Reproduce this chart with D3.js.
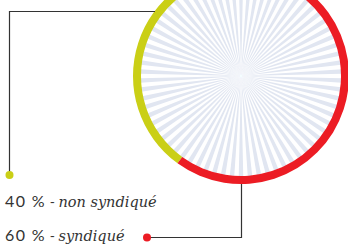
<!DOCTYPE html>
<html>
<head>
<meta charset="utf-8">
<script src="https://cdn.jsdelivr.net/npm/d3@7"></script>
<style>
	html, body { margin: 0; padding: 0; background: #fff; overflow: hidden; }
</style>
</head>
<body>
<svg id="chart" width="348" height="244"></svg>
<script>
// data
const categories = ["non syndiqué", "syndiqué"];
const values = [40, 60];
const colors = ["#cacf16", "#ec1c24"];

const width = 348, height = 244;
const center = { x: 241, y: 76 };
const outerR = 108, innerR = 100;
const rayCount = 140;

const svg = d3.select("#chart");

// rays background
const rayArc = d3.arc().innerRadius(0).outerRadius(innerR + 1);
const rayAngle = 2 * Math.PI / rayCount;
const g = svg.append("g").attr("transform", `translate(${center.x},${center.y})`);
g.selectAll("path.ray")
	.data(d3.range(rayCount).filter(i => i % 2 === 0))
	.enter().append("path")
	.attr("class", "ray")
	.attr("fill", "#e1e6f1")
	.attr("d", i => rayArc({ startAngle: (i - 0.5) * rayAngle, endAngle: (i + 0.5) * rayAngle }));

// ring
const total = d3.sum(values);
const pie = d3.pie().sort(null)
	.startAngle(-2 * Math.PI * values[0] / total)
	.endAngle(2 * Math.PI - 2 * Math.PI * values[0] / total);
const ringArc = d3.arc().innerRadius(innerR).outerRadius(outerR);
g.selectAll("path.slice")
	.data(pie(values))
	.enter().append("path")
	.attr("class", "slice")
	.attr("fill", (d, i) => colors[i])
	.attr("d", ringArc);

// leader lines (layout only)
const leaders = [
	{ pts: [[9.5, 175], [9.5, 11.5], [155, 11.5]], dot: [9.5, 175] },
	{ pts: [[147, 237.5], [241.5, 237.5], [241.5, 184]], dot: [147, 237.5] }
];
const line = d3.line();
leaders.forEach((l, i) => {
	svg.append("path")
		.attr("d", line(l.pts))
		.attr("fill", "none")
		.attr("stroke", "#333")
		.attr("stroke-width", 1.2);
	svg.append("circle")
		.attr("cx", l.dot[0]).attr("cy", l.dot[1]).attr("r", 4)
		.attr("fill", colors[i]);
});

// labels
const labelY = [207, 241];
categories.forEach((c, i) => {
	const t = svg.append("text").attr("x", 5).attr("y", labelY[i]).attr("fill", "#333");
	t.append("tspan")
		.attr("font-family", "Lato, 'Open Sans', sans-serif")
		.attr("font-size", 16)
		.attr("letter-spacing", 1.4)
		.text(values[i] + " %");
	t.append("tspan")
		.attr("font-family", "Lato, sans-serif")
		.attr("font-size", 14)
		.text(" - ");
	t.append("tspan")
		.attr("font-family", "'DejaVu Serif', serif")
		.attr("font-style", "italic")
		.attr("font-size", 14.5)
		.text(c);
});
</script>
</body>
</html>
